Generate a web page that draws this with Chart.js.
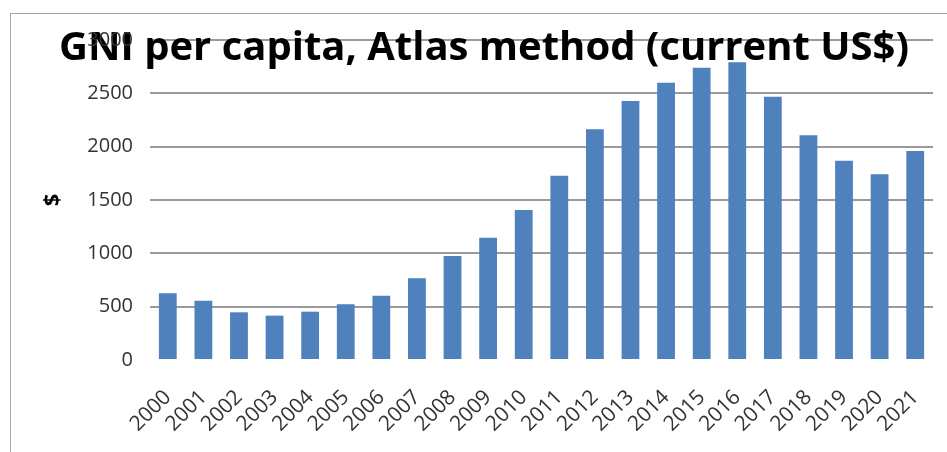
<!DOCTYPE html>
<html>
<head>
<meta charset="utf-8">
<script src="https://cdn.jsdelivr.net/npm/chart.js@4"></script>
<style>
  html, body { margin: 0; padding: 0; background: #ffffff; }
  #frame { position: absolute; left: 10px; top: 13px; width: 1000px; height: 500px; border: 1px solid #a6a6a6; box-sizing: border-box; }
  #wrap { position: absolute; left: 0; top: 0; width: 947px; height: 452px; }
</style>
</head>
<body>
<div id="frame"></div>
<div id="wrap"><canvas id="c" width="947" height="452"></canvas></div>
<script>
const titleText = "GNI per capita, Atlas method (current US$)";
const yAxisTitle = "$";
const categories = ["2000","2001","2002","2003","2004","2005","2006","2007","2008","2009","2010","2011","2012","2013","2014","2015","2016","2017","2018","2019","2020","2021"];
const gniValues = [625, 556, 447, 416, 453, 522, 603, 766, 975, 1147, 1406, 1728, 2163, 2428, 2600, 2741, 2791, 2469, 2106, 1869, 1741, 1959];
const yMin = 0, yMax = 3000, yStep = 500;

const FONT = "'Open Sans', 'Liberation Sans', sans-serif";

new Chart(document.getElementById('c'), {
  type: 'bar',
  data: {
    labels: categories,
    datasets: [{
      label: titleText,
      data: gniValues,
      backgroundColor: '#4f81bd',
      borderWidth: 0,
      categoryPercentage: 1.0,
      barPercentage: 0.5
    }]
  },
  options: {
    responsive: false,
    animation: false,
    devicePixelRatio: 1,
    layout: { padding: { left: 35, right: 14, top: 0, bottom: 0 } },
    plugins: {
      legend: { display: false },
      tooltip: { enabled: false },
      title: {
        display: true,
        text: titleText,
        color: '#000000',
        font: { family: FONT, size: 40, weight: 'bold', lineHeight: 1.2 },
        padding: { top: 25, bottom: -33 }
      }
    },
    scales: {
      x: {
        grid: { display: false, drawTicks: false },
        border: { display: false },
        ticks: {
          color: '#333333',
          font: { family: FONT, size: 21 },
          maxRotation: 45,
          minRotation: 45,
          padding: 25,
          autoSkip: false
        },
        afterFit(scale) { scale.height = 92; scale.paddingRight = 0; scale.paddingLeft = 0; }
      },
      y: {
        min: yMin,
        max: yMax,
        border: { display: false },
        grid: {
          drawTicks: false,
          lineWidth: 2,
          color: (ctx) => (ctx.tick && ctx.tick.value === 0) ? 'rgba(0,0,0,0)' : '#9a9a9a'
        },
        ticks: {
          stepSize: yStep,
          color: '#333333',
          font: { family: FONT, size: 20 },
          padding: 17,
          callback: (v) => String(v)
        },
        title: {
          display: true,
          text: yAxisTitle,
          color: '#000000',
          font: { family: FONT, size: 22, weight: 'bold' },
          padding: { top: 5, bottom: 0 }
        },
        afterFit(scale) { scale.width = 115; }
      }
    }
  }
});
</script>
</body>
</html>
